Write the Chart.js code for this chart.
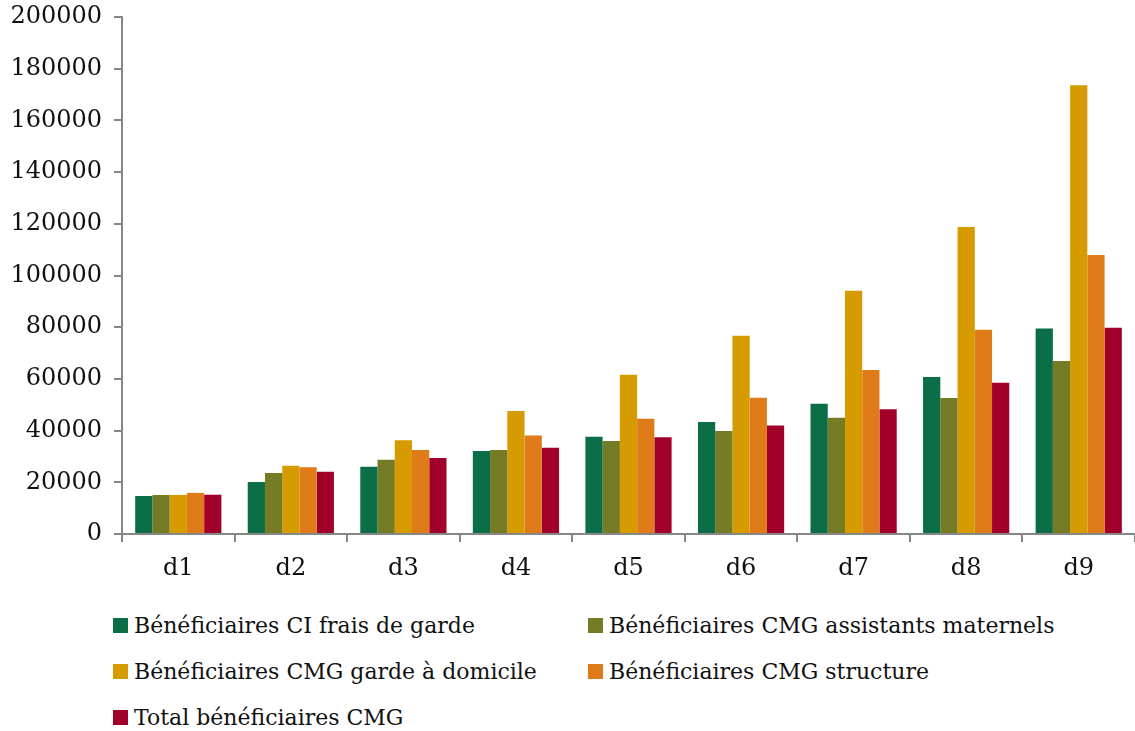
<!DOCTYPE html>
<html>
<head>
<meta charset="utf-8">
<script src="https://cdn.jsdelivr.net/npm/chart.js@4.4.1/dist/chart.umd.min.js"></script>
<style>
  html, body { margin: 0; padding: 0; background: #fff; }
  #wrap { position: relative; width: 1135px; height: 590px; }
  #legend { position: relative; width: 1135px; height: 141px; font-family: "DejaVu Serif", serif; font-size: 22px; color: #111; }
  .item { position: absolute; display: flex; align-items: center; white-space: nowrap; }
  .box { width: 15px; height: 15px; margin-right: 6px; }
</style>
</head>
<body>
<div id="wrap"><canvas id="c" width="1135" height="590"></canvas></div>
<div id="legend"></div>
<script>
const categories = ["d1", "d2", "d3", "d4", "d5", "d6", "d7", "d8", "d9"];
const seriesNames = [
  "Bénéficiaires CI frais de garde",
  "Bénéficiaires CMG assistants maternels",
  "Bénéficiaires CMG garde à domicile",
  "Bénéficiaires CMG structure",
  "Total bénéficiaires CMG"
];
const ciFraisGarde       = [14700, 20100, 26000, 32100, 37600, 43300, 50400, 60700, 79500];
const cmgAssistants      = [15100, 23600, 28700, 32500, 36000, 39800, 45000, 52600, 66900];
const cmgGardeDomicile   = [15100, 26400, 36300, 47600, 61600, 76700, 94100, 118800, 173600];
const cmgStructure       = [15900, 25800, 32500, 38100, 44600, 52700, 63400, 79000, 107900];
const totalCMG           = [15200, 24100, 29400, 33400, 37400, 42000, 48300, 58500, 79800];
const yTicks = [0, 20000, 40000, 60000, 80000, 100000, 120000, 140000, 160000, 180000, 200000];

const colors = ["#0b6e47", "#767b25", "#d69b00", "#e07b1a", "#a1002a"];
const values = [ciFraisGarde, cmgAssistants, cmgGardeDomicile, cmgStructure, totalCMG];

const datasets = seriesNames.map((n, i) => ({
  label: n,
  data: values[i],
  backgroundColor: colors[i],
  borderWidth: 0,
  categoryPercentage: 0.766,
  barPercentage: 1.0
}));

const axisColor = "#878787";
const tickFont = { family: "DejaVu Serif", size: 24 };

const chart = new Chart(document.getElementById("c"), {
  type: "bar",
  data: { labels: categories, datasets },
  options: {
    responsive: false,
    animation: false,
    layout: { padding: { top: 17, right: 0, left: 0, bottom: 0 } },
    plugins: { legend: { display: false }, tooltip: { enabled: false } },
    scales: {
      x: {
        grid: { display: true, drawOnChartArea: false, drawTicks: true, tickLength: 8, color: axisColor, lineWidth: 2, offset: true },
        border: { display: true, color: axisColor, width: 2 },
        ticks: { font: tickFont, color: "#111", padding: 12 },
        afterFit: (s) => { s.height = 56; s.paddingLeft = 0; s.paddingRight = 0; }
      },
      y: {
        min: 0, max: 200000,
        afterBuildTicks: (s) => { s.ticks = yTicks.map(v => ({ value: v })); },
        grid: { display: true, drawOnChartArea: false, drawTicks: true, tickLength: 8, color: axisColor, lineWidth: 2 },
        border: { display: true, color: axisColor, width: 2 },
        ticks: { font: tickFont, color: "#111", padding: 12, callback: (v) => String(v) },
        afterFit: (s) => { s.width = 122; s.paddingTop = 0; s.paddingBottom = 0; }
      }
    }
  }
});

// HTML legend built from the chart's datasets
const legendPos = [[113, 35], [588, 35], [113, 81], [588, 81], [113, 127]];
const lg = document.getElementById("legend");
chart.data.datasets.forEach((ds, i) => {
  const it = document.createElement("div");
  it.className = "item";
  it.style.left = legendPos[i][0] + "px";
  it.style.top = (legendPos[i][1] - 13) + "px";
  it.style.height = "26px";
  const b = document.createElement("span");
  b.className = "box";
  b.style.background = ds.backgroundColor;
  const t = document.createElement("span");
  t.textContent = ds.label;
  it.appendChild(b); it.appendChild(t);
  lg.appendChild(it);
});
</script>
</body>
</html>
